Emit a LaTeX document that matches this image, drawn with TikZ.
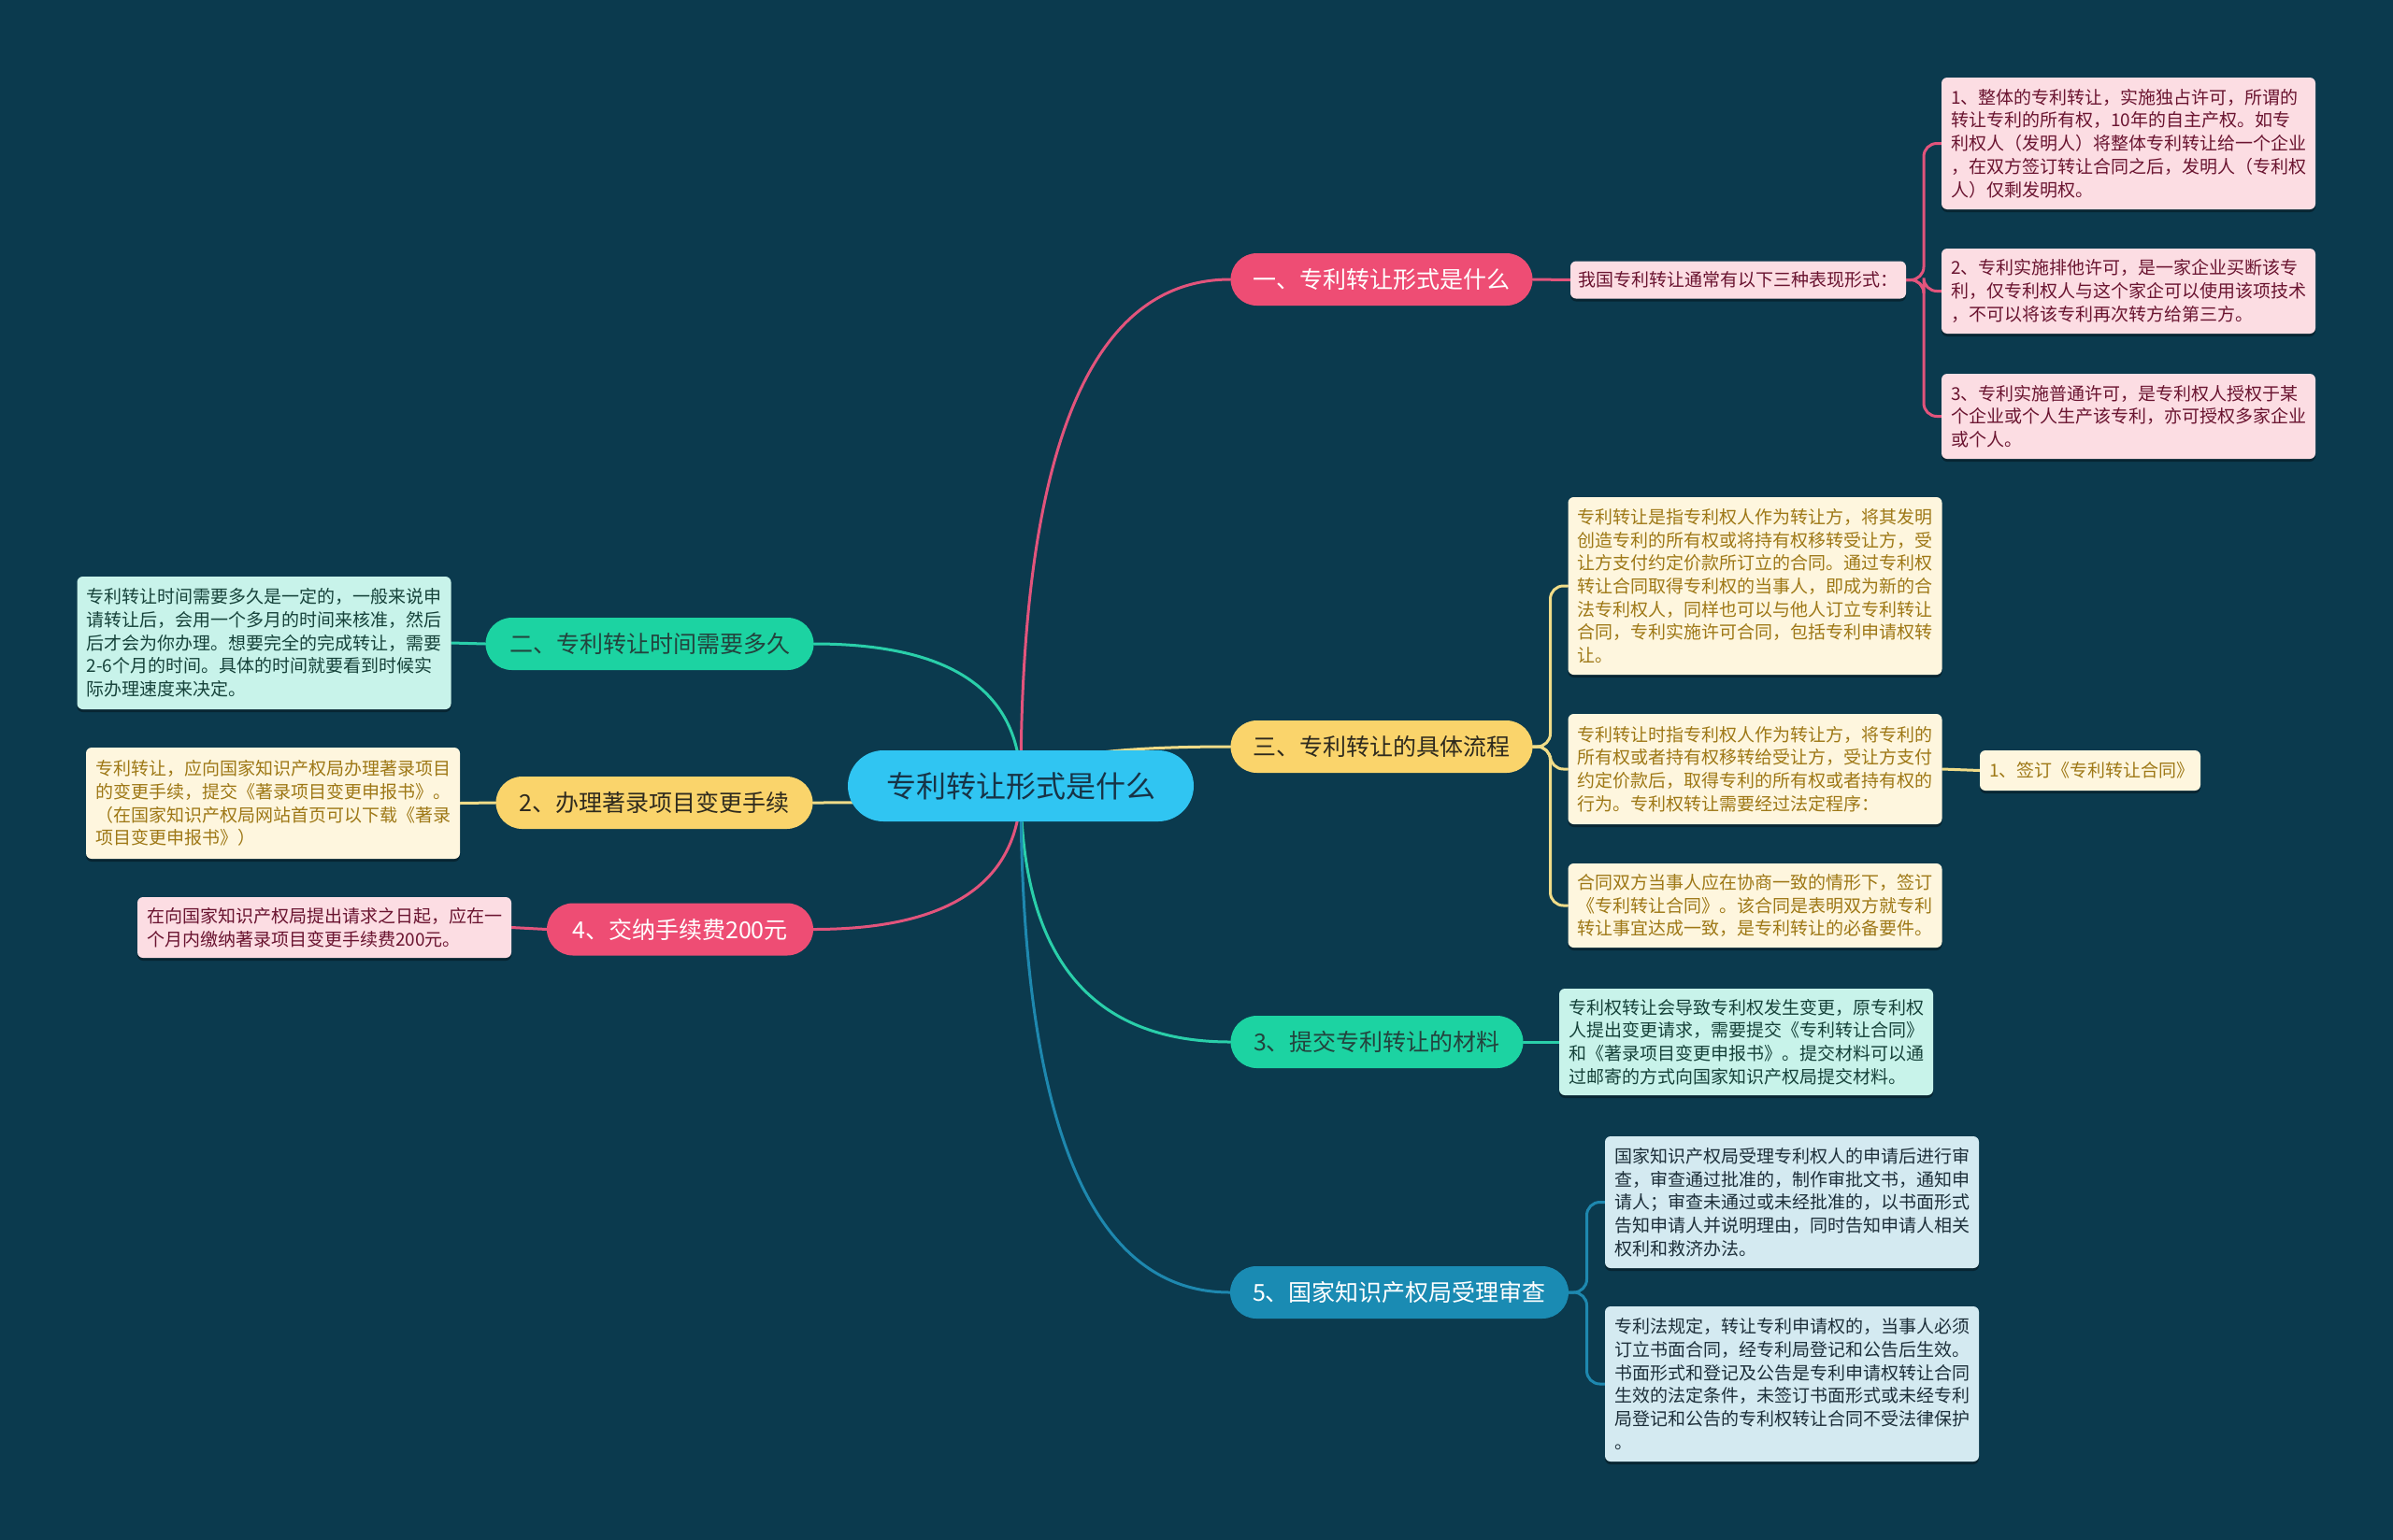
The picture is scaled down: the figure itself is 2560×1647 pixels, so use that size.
\documentclass[tikz,border=0pt]{standalone}
\usepackage{fontspec}
\setmainfont{Noto Sans CJK SC}
\usetikzlibrary{calc,shadows}
\definecolor{bgc}{HTML}{0B3A4E}
\definecolor{pinkB}{HTML}{EE4D74}
\definecolor{pinkLine}{HTML}{E2547C}
\definecolor{pinkLeaf}{HTML}{FCDDE3}
\definecolor{pinkText}{HTML}{6A1430}
\definecolor{yelB}{HTML}{FAD46B}
\definecolor{yelLine}{HTML}{F0DC88}
\definecolor{yelLeaf}{HTML}{FEF6DE}
\definecolor{yelText}{HTML}{9E7816}
\definecolor{yelDark}{HTML}{2E2A1E}
\definecolor{tealB}{HTML}{1CD3A2}
\definecolor{tealLine}{HTML}{2ACFAA}
\definecolor{tealLeaf}{HTML}{C8F3EA}
\definecolor{tealText}{HTML}{16423A}
\definecolor{tealDark}{HTML}{23433D}
\definecolor{blueB}{HTML}{1A8BB3}
\definecolor{blueLine}{HTML}{1E88AF}
\definecolor{blueLeaf}{HTML}{D4EAF1}
\definecolor{blueText}{HTML}{1D2F3A}
\definecolor{centerB}{HTML}{30C5F2}
\definecolor{centerText}{HTML}{173346}
\pgfdeclarelayer{bg}
\pgfsetlayers{bg,main}
\tikzset{
  pill/.style={rounded corners=28pt, minimum height=56pt, inner sep=0pt, font=\fontsize{25}{30}\selectfont},
  centerpill/.style={rounded corners=38pt, minimum height=76pt, minimum width=370pt, inner sep=0pt, fill=centerB, text=centerText, font=\fontsize{32}{38}\selectfont},
  leaf/.style={rounded corners=6pt, inner xsep=10pt, inner ysep=0pt, text width=380pt, align=left,
    font=\fontsize{19}{24.7}\selectfont,
    drop shadow={shadow xshift=0pt, shadow yshift=-3pt, opacity=0.35, fill=black}},
  pinkleaf/.style={leaf, fill=pinkLeaf, text=pinkText},
  yelleaf/.style={leaf, fill=yelLeaf, text=yelText},
  tealleaf/.style={leaf, fill=tealLeaf, text=tealText},
  blueleaf/.style={leaf, fill=blueLeaf, text=blueText},
  conn/.style={line width=3pt, line cap=round},
  qc/.style={to path={.. controls ($(\tikztostart)!0.667!(\tikztostart |- \tikztotarget)$) and ($(\tikztotarget)!0.667!(\tikztostart |- \tikztotarget)$) .. (\tikztotarget)}},
  sc/.style={rounded corners=14pt, to path={-- ($(\tikztostart)!0.5!(\tikztotarget |- \tikztostart)$) |- (\tikztotarget)}}
}
\begin{document}
\begin{tikzpicture}[x=1pt,y=-1pt]
\useasboundingbox (0,0) rectangle (2560,1647);
\begin{pgfonlayer}{bg}
\fill[bgc] (-20,-20) rectangle (2580,1667);
\end{pgfonlayer}

% center
\node[centerpill] (c) at (1092,841) {专利转让形式是什么};

% main branches
\node[pill, fill=pinkB, text=white, minimum width=323pt] (b1) at (1478,299) {一、专利转让形式是什么};
\node[pill, fill=yelB, text=yelDark, minimum width=323pt] (b3) at (1478,799) {三、专利转让的具体流程};
\node[pill, fill=tealB, text=tealDark, minimum width=313pt] (r3) at (1473,1115) {3、提交专利转让的材料};
\node[pill, fill=blueB, text=white, minimum width=362pt] (r5) at (1497,1383) {5、国家知识产权局受理审查};
\node[pill, fill=tealB, text=tealDark, minimum width=351pt] (l2) at (695,689) {二、专利转让时间需要多久};
\node[pill, fill=yelB, text=yelDark, minimum width=339pt] (l2b) at (700,859) {2、办理著录项目变更手续};
\node[pill, fill=pinkB, text=white, minimum width=285pt] (l4) at (727.5,994.5) {4、交纳手续费200元};

% pink family (right)
\node[pinkleaf, text width=342pt, inner xsep=8.5pt, minimum height=40pt] (b1a) at (1859.5,299.5) {我国专利转让通常有以下三种表现形式：};
\node[pinkleaf, minimum height=141pt] (p1) at (2277,153.5) {1、整体的专利转让，实施独占许可，所谓的\\转让专利的所有权，10年的自主产权。如专\\利权人（发明人）将整体专利转让给一个企业\\，在双方签订转让合同之后，发明人（专利权\\人）仅剩发明权。};
\node[pinkleaf, minimum height=91pt] (p2) at (2277,311.5) {2、专利实施排他许可，是一家企业买断该专\\利，仅专利权人与这个家企可以使用该项技术\\，不可以将该专利再次转方给第三方。};
\node[pinkleaf, minimum height=91pt] (p3) at (2277,445.5) {3、专利实施普通许可，是专利权人授权于某\\个企业或个人生产该专利，亦可授权多家企业\\或个人。};

% yellow family (right)
\node[yelleaf, minimum height=190pt] (ya) at (1877.5,627) {专利转让是指专利权人作为转让方，将其发明\\创造专利的所有权或将持有权移转受让方，受\\让方支付约定价款所订立的合同。通过专利权\\转让合同取得专利权的当事人，即成为新的合\\法专利权人，同样也可以与他人订立专利转让\\合同，专利实施许可合同，包括专利申请权转\\让。};
\node[yelleaf, minimum height=118pt] (yb) at (1877.5,823) {专利转让时指专利权人作为转让方，将专利的\\所有权或者持有权移转给受让方，受让方支付\\约定价款后，取得专利的所有权或者持有权的\\行为。专利权转让需要经过法定程序：};
\node[yelleaf, minimum height=90pt] (yc) at (1877.5,969) {合同双方当事人应在协商一致的情形下，签订\\《专利转让合同》。该合同是表明双方就专利\\转让事宜达成一致，是专利转让的必备要件。};
\node[yelleaf, text width=216pt, align=center, minimum height=43pt] (ys) at (2236,824.5) {1、签订《专利转让合同》};

% teal family (right)
\node[tealleaf, minimum height=114pt] (tr) at (1868,1115) {专利权转让会导致专利权发生变更，原专利权\\人提出变更请求，需要提交《专利转让合同》\\和《著录项目变更申报书》。提交材料可以通\\过邮寄的方式向国家知识产权局提交材料。};

% blue family
\node[blueleaf, minimum height=141pt] (ba) at (1917,1286.5) {国家知识产权局受理专利权人的申请后进行审\\查，审查通过批准的，制作审批文书，通知申\\请人；审查未通过或未经批准的，以书面形式\\告知申请人并说明理由，同时告知申请人相关\\权利和救济办法。};
\node[blueleaf, minimum height=166pt] (bb) at (1917,1481) {专利法规定，转让专利申请权的，当事人必须\\订立书面合同，经专利局登记和公告后生效。\\书面形式和登记及公告是专利申请权转让合同\\生效的法定条件，未签订书面形式或未经专利\\局登记和公告的专利权转让合同不受法律保护\\。};

% left leaves
\node[tealleaf, minimum height=142pt] (tl) at (282.5,688) {专利转让时间需要多久是一定的，一般来说申\\请转让后，会用一个多月的时间来核准，然后\\后才会为你办理。想要完全的完成转让，需要\\2-6个月的时间。具体的时间就要看到时候实\\际办理速度来决定。};
\node[yelleaf, minimum height=119pt] (yl) at (292,859.5) {专利转让，应向国家知识产权局办理著录项目\\的变更手续，提交《著录项目变更申报书》。\\（在国家知识产权局网站首页可以下载《著录\\项目变更申报书》）};
\node[pinkleaf, minimum height=65pt] (pl) at (347,992.5) {在向国家知识产权局提出请求之日起，应在一\\个月内缴纳著录项目变更手续费200元。};

% connectors
\begin{pgfonlayer}{bg}
\draw[conn, pinkLine] (c.center) to[qc] (b1.west);
\draw[conn, pinkLine] (b1.east) -- (b1a.west);
\draw[conn, pinkLine] (b1a.east) to[sc] (p1.west);
\draw[conn, pinkLine] (b1a.east) to[sc] (p2.west);
\draw[conn, pinkLine] (b1a.east) to[sc] (p3.west);
\draw[conn, pinkLine] (c.center) to[qc] (l4.east);
\draw[conn, pinkLine] (l4.west) -- (pl.east);

\draw[conn, yelLine] (c.center) to[qc] (b3.west);
\draw[conn, yelLine] (b3.east) to[sc] (ya.west);
\draw[conn, yelLine] (b3.east) to[sc] (yb.west);
\draw[conn, yelLine] (b3.east) to[sc] (yc.west);
\draw[conn, yelLine] (yb.east) -- (ys.west);
\draw[conn, yelLine] (c.center) to[qc] (l2b.east);
\draw[conn, yelLine] (l2b.west) -- (yl.east);

\draw[conn, tealLine] (c.center) to[qc] (r3.west);
\draw[conn, tealLine] (r3.east) -- (tr.west);
\draw[conn, tealLine] (c.center) to[qc] (l2.east);
\draw[conn, tealLine] (l2.west) -- (tl.east);

\draw[conn, blueLine] (c.center) to[qc] (r5.west);
\draw[conn, blueLine] (r5.east) to[sc] (ba.west);
\draw[conn, blueLine] (r5.east) to[sc] (bb.west);
\end{pgfonlayer}
\end{tikzpicture}
\end{document}
